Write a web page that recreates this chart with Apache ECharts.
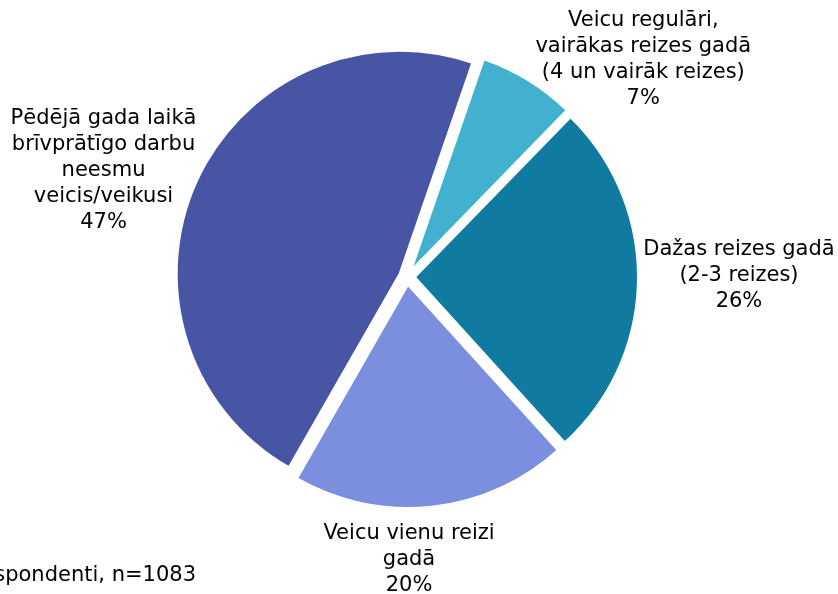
<!DOCTYPE html>
<html>
<head>
<meta charset="utf-8">
<script src="https://cdn.jsdelivr.net/npm/echarts@6/dist/echarts.min.js"></script>
<style>
  html, body { margin: 0; padding: 0; background: #fff; }
  #chart { width: 838px; height: 594px; }
</style>
</head>
<body>
<div id="chart"></div>
<script>
  const categories = [
    'Veicu regulāri,\nvairākas reizes gadā\n(4 un vairāk reizes)',
    'Dažas reizes gadā\n(2-3 reizes)',
    'Veicu vienu reizi\ngadā',
    'Pēdējā gada laikā\nbrīvprātīgo darbu\nneesmu\nveicis/veikusi'
  ];
  const shares = [7, 26, 20, 47];
  const colors = ['#42B1CF', '#117AA1', '#7C8FDF', '#4855A5'];
  const note = 'Visi respondenti, n=1083';

  // label nudges from the default outside anchor, to sit like the original
  const labelNudge = [[105, -12], [86, -6], [-29, 43], [-79, -7]];

  const chart = echarts.init(document.getElementById('chart'));
  const font = 'Verdana, "DejaVu Sans", sans-serif';

  chart.setOption({
    animation: false,
    graphic: [{
      type: 'text',
      style: {
        text: note, x: 196, y: 576,
        align: 'right', verticalAlign: 'middle',
        font: '21px ' + font, fill: '#000'
      }
    }],
    series: [{
      type: 'pie',
      center: [407, 277],
      radius: 223,
      startAngle: 71,
      clockwise: true,
      avoidLabelOverlap: false,
      selectedMode: 'multiple',
      selectedOffset: 8,
      silent: true,
      itemStyle: { borderColor: '#fff', borderWidth: 2 },
      label: {
        show: true,
        position: 'outside',
        formatter: p => p.name + '\n' + p.value + '%',
        fontFamily: font,
        fontSize: 21,
        lineHeight: 26,
        color: '#000'
      },
      labelLine: { show: false, length: 10, length2: 0 },
      labelLayout: p => ({
        align: 'center',
        verticalAlign: 'middle',
        dx: labelNudge[p.dataIndex][0],
        dy: labelNudge[p.dataIndex][1]
      }),
      data: categories.map((name, i) => ({
        name: name,
        value: shares[i],
        selected: true,
        itemStyle: { color: colors[i] }
      }))
    }]
  });
</script>
</body>
</html>
